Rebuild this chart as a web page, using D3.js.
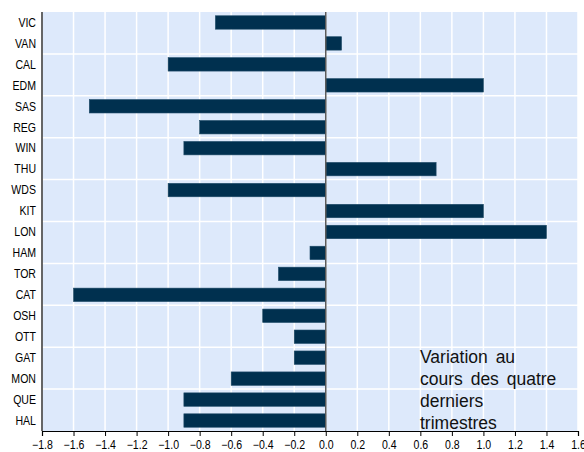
<!DOCTYPE html>
<html><head><meta charset="utf-8">
<script src="https://cdn.jsdelivr.net/npm/d3@7"></script>
<style>body{margin:0;background:#fff}svg{display:block}</style>
</head><body>
<script>
const categories = ["VIC","VAN","CAL","EDM","SAS","REG","WIN","THU","WDS","KIT","LON","HAM","TOR","CAT","OSH","OTT","GAT","MON","QUE","HAL"];
const values = [-0.7,0.1,-1.0,1.0,-1.5,-0.8,-0.9,0.7,-1.0,1.0,1.4,-0.1,-0.3,-1.6,-0.4,-0.2,-0.2,-0.6,-0.9,-0.9];
const xTicks = [-1.8,-1.6,-1.4,-1.2,-1.0,-0.8,-0.6,-0.4,-0.2,0.0,0.2,0.4,0.6,0.8,1.0,1.2,1.4,1.6];
const noteLines = ["Variation au","cours des quatre","derniers","trimestres"];

const W=584,H=452;
const m={l:42,r:6,t:12,b:21};
const svg=d3.select("body").append("svg").attr("width",W).attr("height",H);
const x=d3.scaleLinear().domain([-1.8,1.6]).range([m.l,578]);
const y=d3.scaleBand().domain(categories).range([m.t,431]).paddingInner(0.36).paddingOuter(0.18);
const yb=d3.scaleBand().domain(categories).range([m.t,431]);

svg.append("rect").attr("x",x(-1.8)).attr("y",m.t).attr("width",x(1.6)-x(-1.8)).attr("height",431-m.t).attr("fill","#dde9fb");
svg.append("g").selectAll("line").data(xTicks).join("line")
 .attr("x1",d=>x(d)).attr("x2",d=>x(d)).attr("y1",m.t).attr("y2",431)
 .attr("stroke","#fff").attr("stroke-width",1.5);
svg.append("g").selectAll("line").data(categories.filter((c,i)=>i%2===0&&i>0)).join("line")
 .attr("x1",x(-1.8)).attr("x2",x(1.6)).attr("y1",d=>yb(d)).attr("y2",d=>yb(d))
 .attr("stroke","#fff").attr("stroke-width",1.5);
svg.append("g").selectAll("rect").data(categories).join("rect")
 .attr("x",(d,i)=>x(Math.min(0,values[i])))
 .attr("width",(d,i)=>Math.abs(x(values[i])-x(0)))
 .attr("y",d=>y(d)).attr("height",y.bandwidth())
 .attr("fill","#00304f").attr("stroke","#1d4a68").attr("stroke-width",0.6);
svg.append("line").attr("x1",x(0)).attr("x2",x(0)).attr("y1",m.t).attr("y2",431)
 .attr("stroke","#5a5a5a").attr("stroke-width",1.5);
svg.append("line").attr("x1",x(-1.8)).attr("x2",x(-1.8)).attr("y1",m.t).attr("y2",431).attr("stroke","#000").attr("stroke-width",1.2);
const xa=svg.append("g").attr("transform","translate(0,431)")
 .call(d3.axisBottom(x).tickValues(xTicks).tickFormat(d3.format(".1f")).tickSize(5).tickPadding(4));
xa.select(".domain").attr("stroke","#000").attr("stroke-width",1.2);
xa.selectAll(".tick line").attr("stroke","#000");
xa.selectAll(".tick text").attr("font-family","Liberation Sans, Arial, sans-serif").attr("font-size","12px").attr("fill","#000")
  .attr("transform","scale(0.88,1)").attr("text-anchor","middle");
svg.append("g").selectAll("text").data(categories).join("text")
 .attr("transform",d=>`translate(36,${yb(d)+yb.bandwidth()/2+4.3}) scale(0.88,1)`)
 .attr("text-anchor","end").attr("font-family","Liberation Sans, Arial, sans-serif").attr("font-size","12px").attr("fill","#000")
 .text(d=>d);
svg.append("text").attr("font-family","Liberation Sans, Arial, sans-serif").attr("font-size","17.5px").attr("fill","#111")
 .attr("word-spacing","3px")
 .selectAll("tspan").data(noteLines).join("tspan").attr("x",420).attr("y",(d,i)=>362.5+i*22.3).text(d=>d);
</script>
</body></html>
